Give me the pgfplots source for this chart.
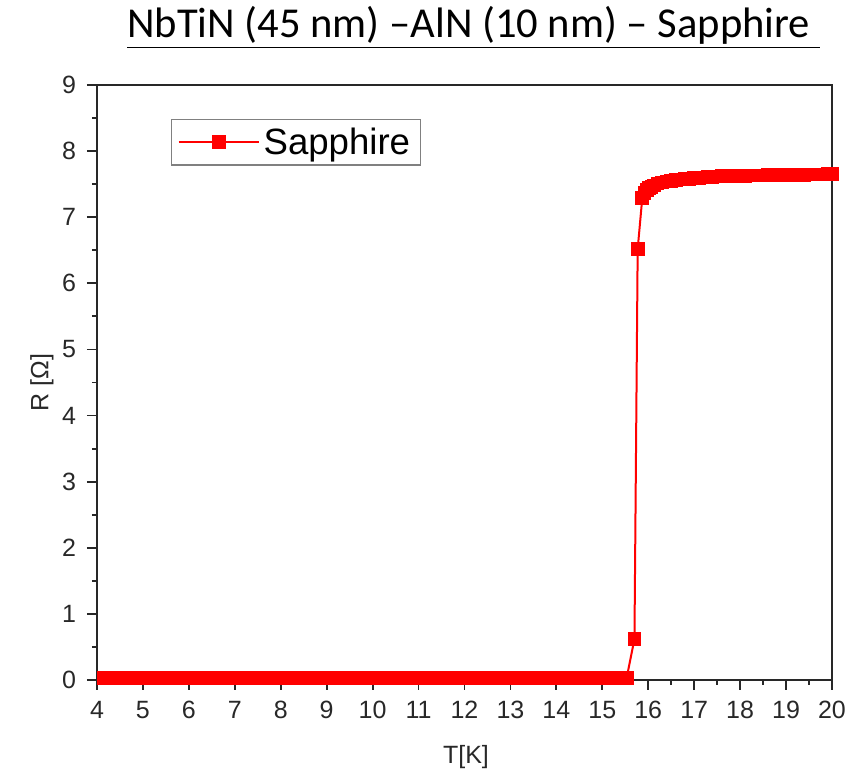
\documentclass[border=0pt]{standalone}
\usepackage{fontspec}
\setmainfont{Liberation Sans}
\newfontfamily\carlito{Carlito}
\usepackage{pgfplots}
\pgfplotsset{compat=1.18}
\definecolor{axgray}{RGB}{40,40,40}
\begin{document}
\begin{tikzpicture}
\begin{axis}[
  scale only axis,
  width=367.5pt, height=297.5pt,
  xmin=4, xmax=20, ymin=0, ymax=9,
  xtick={4,5,...,20}, ytick={0,1,...,9},
  minor x tick num=1, minor y tick num=1,
  tick align=outside,
  xtick pos=left, ytick pos=left,
  major tick length=5pt, minor tick length=2.5pt,
  axis line style={axgray, line width=1pt},
  every tick/.style={axgray, line width=0.9pt},
  /pgf/number format/assume math mode=true,
  tick label style={font=\fontsize{12.5}{14}\selectfont, text=axgray},
  xticklabel style={yshift=-2pt},
  yticklabel style={xshift=-2pt},
  xlabel={T[K]}, ylabel={R [Ω]},
  xlabel style={at={(axis description cs:0.502,-0.129)}, anchor=center, font=\fontsize{12.5}{14}\selectfont, text=axgray},
  ylabel style={at={(axis description cs:-0.0748,0.5)}, anchor=center, font=\fontsize{12.5}{14}\selectfont, text=axgray},
  legend style={at={(axis description cs:0.1007,0.943)}, anchor=north west, draw=gray, line width=0.6pt, font=\fontsize{18.3}{21}\selectfont, inner xsep=3pt, inner ysep=2pt},
  legend cell align=left,
  legend image code/.code={\draw[mark repeat=2,mark phase=2,#1] plot coordinates {(0pt,0pt) (20pt,0pt) (40pt,0pt)};},
]
\addplot[red, line width=1pt, mark=square*, mark size=3.2pt, mark options={solid, fill=red, draw=red, line width=0pt}] coordinates {
(4.15,0.03) (4.25,0.03) (4.35,0.03) (4.45,0.03) (4.55,0.03) (4.65,0.03) (4.75,0.03) (4.85,0.03) (4.95,0.03)
(5.05,0.03) (5.15,0.03) (5.25,0.03) (5.35,0.03) (5.45,0.03) (5.55,0.03) (5.65,0.03) (5.75,0.03) (5.85,0.03) (5.95,0.03)
(6.05,0.03) (6.15,0.03) (6.25,0.03) (6.35,0.03) (6.45,0.03) (6.55,0.03) (6.65,0.03) (6.75,0.03) (6.85,0.03) (6.95,0.03)
(7.05,0.03) (7.15,0.03) (7.25,0.03) (7.35,0.03) (7.45,0.03) (7.55,0.03) (7.65,0.03) (7.75,0.03) (7.85,0.03) (7.95,0.03)
(8.05,0.03) (8.15,0.03) (8.25,0.03) (8.35,0.03) (8.45,0.03) (8.55,0.03) (8.65,0.03) (8.75,0.03) (8.85,0.03) (8.95,0.03)
(9.05,0.03) (9.15,0.03) (9.25,0.03) (9.35,0.03) (9.45,0.03) (9.55,0.03) (9.65,0.03) (9.75,0.03) (9.85,0.03) (9.95,0.03)
(10.05,0.03) (10.15,0.03) (10.25,0.03) (10.35,0.03) (10.45,0.03) (10.55,0.03) (10.65,0.03) (10.75,0.03) (10.85,0.03) (10.95,0.03)
(11.05,0.03) (11.15,0.03) (11.25,0.03) (11.35,0.03) (11.45,0.03) (11.55,0.03) (11.65,0.03) (11.75,0.03) (11.85,0.03) (11.95,0.03)
(12.05,0.03) (12.15,0.03) (12.25,0.03) (12.35,0.03) (12.45,0.03) (12.55,0.03) (12.65,0.03) (12.75,0.03) (12.85,0.03) (12.95,0.03)
(13.05,0.03) (13.15,0.03) (13.25,0.03) (13.35,0.03) (13.45,0.03) (13.55,0.03) (13.65,0.03) (13.75,0.03) (13.85,0.03) (13.95,0.03)
(14.05,0.03) (14.15,0.03) (14.25,0.03) (14.35,0.03) (14.45,0.03) (14.55,0.03) (14.65,0.03) (14.75,0.03) (14.85,0.03) (14.95,0.03)
(15.05,0.03) (15.15,0.03) (15.25,0.03) (15.35,0.03) (15.45,0.03) (15.53,0.03)
(15.70,0.62) (15.77,6.52) (15.87,7.29)
(15.92,7.37) (15.97,7.41) (16.02,7.44) (16.07,7.46) (16.12,7.48) (16.2,7.51) (16.3,7.525) (16.4,7.54) (16.5,7.55)
(16.6,7.56) (16.7,7.57) (16.8,7.575) (16.9,7.58) (17.0,7.59) (17.1,7.595) (17.2,7.60) (17.3,7.605) (17.4,7.61)
(17.5,7.615) (17.6,7.62) (17.7,7.62) (17.8,7.62) (17.9,7.625) (18.0,7.625) (18.1,7.625) (18.2,7.63) (18.3,7.63)
(18.4,7.63) (18.5,7.63) (18.6,7.635) (18.7,7.635) (18.8,7.635) (18.9,7.635) (19.0,7.64) (19.1,7.64) (19.2,7.64)
(19.3,7.64) (19.4,7.64) (19.5,7.645) (19.6,7.645) (19.7,7.645) (19.8,7.645) (19.9,7.65) (20.0,7.65)
};
\addlegendentry{Sapphire}
\end{axis}
\node[anchor=base, font=\carlito\fontsize{21.3}{25}\selectfont] at (188.25pt,321pt) {\underline{NbTiN (45 nm) –AlN (10 nm) – Sapphire\ }};
\path[use as bounding box] (-48.5pt,-47pt) rectangle (381pt,340pt);
\end{tikzpicture}
\end{document}
